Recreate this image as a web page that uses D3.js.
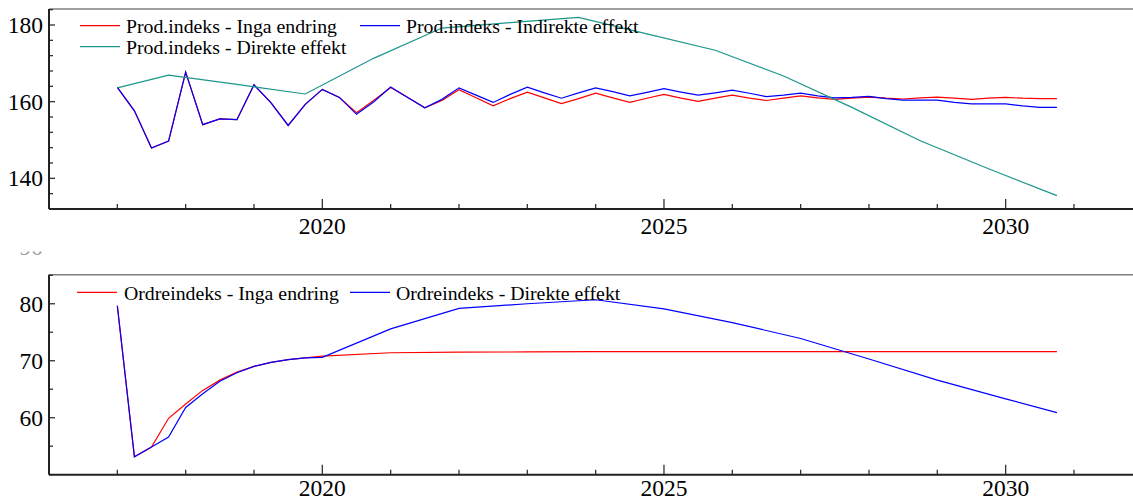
<html>
<head>
  <meta charset="utf-8">
  <title>Prod.indeks og Ordreindeks</title>
  <script src="https://d3js.org/d3.v7.min.js"></script>
  <style>
    body {
      margin: 0;
      background-color: white;
    }
  </style>
</head>

<body>
  <svg id="chart" width="1133" height="501"></svg>
  <script>
    var serifFont = "Liberation Serif";

    // quarterly time points 2017Q1 .. 2030Q4
    var quarters = d3.range(2017, 2031, 0.25);

    var prodIngaEndring = [
      163.7, 157.6, 147.9, 149.7, 167.7, 154.0, 155.5, 155.3, 164.4, 159.7, 153.8, 159.3,
      163.2, 161.1, 157.1, 160.3, 163.7, 161.1, 158.4, 160.3, 163.1, 161.0, 158.9, 160.8,
      162.5, 161.0, 159.5, 160.8, 162.2, 161.0, 159.8, 160.9, 161.9, 160.9, 160.1, 160.9,
      161.7, 160.9, 160.3, 160.9, 161.5, 161.0, 160.6, 160.9, 161.2, 160.9, 160.7, 161.0,
      161.2, 160.9, 160.6, 160.9, 161.1, 160.9, 160.8, 160.8
    ];
    var prodIndirekte = [
      163.7, 157.6, 147.9, 149.7, 167.7, 154.0, 155.5, 155.3, 164.4, 159.7, 153.8, 159.3,
      163.2, 161.1, 156.7, 159.9, 163.8, 161.1, 158.4, 160.6, 163.6, 161.7, 159.8, 161.9,
      163.8, 162.3, 160.9, 162.3, 163.6, 162.6, 161.5, 162.4, 163.4, 162.5, 161.7, 162.3,
      163.0, 162.2, 161.3, 161.7, 162.2, 161.5, 161.0, 161.1, 161.4, 160.8, 160.4, 160.4,
      160.4, 159.8, 159.4, 159.4, 159.4, 158.9, 158.5, 158.5
    ];

    // the direkte effekt series only has these points
    var prodDirekteTid = [2017, 2017.75, 2018.75, 2019.75, 2020.75, 2021.75, 2022.75, 2023.75,
      2024.75, 2025.75, 2026.75, 2027.75, 2028.75, 2029.75, 2030.75];
    var prodDirekte = [163.6, 166.9, 164.5, 162.0, 171.3, 179.2, 180.6, 182.0,
      177.7, 173.4, 166.7, 158.5, 149.8, 142.5, 135.5];

    var ordreTid = [2017, 2017.25, 2017.5, 2017.75, 2018, 2018.25, 2018.5, 2018.75,
      2019, 2019.25, 2019.5, 2019.75, 2020, 2021, 2022, 2023, 2024, 2025, 2026, 2027,
      2028, 2029, 2030, 2030.75];
    var ordreIngaEndring = [79.65, 53.16, 54.85, 59.9, 62.4, 64.8, 66.6, 68.0,
      69.0, 69.7, 70.2, 70.5, 70.8, 71.4, 71.5, 71.55, 71.6, 71.6, 71.6, 71.6,
      71.6, 71.6, 71.6, 71.6];
    var ordreDirekte = [79.65, 53.16, 54.85, 56.6, 61.8, 64.2, 66.4, 67.9,
      69.0, 69.7, 70.2, 70.5, 70.6, 75.6, 79.2, 80.0, 80.7, 79.1, 76.7, 73.9,
      70.3, 66.6, 63.3, 60.9];

    var yearTicks = [2020, 2025, 2030];
    var prodTicks = [140, 160, 180];
    var ordreTicks = [60, 70, 80];

    var svg = d3.select("#chart");

    var xScale = d3.scaleLinear()
      .domain([2016, 2032])
      .range([49, 1142.3]);

    function drawPanel(top, bottom, labelOffset, yDomain, majorTicks, minorStep, series, legend) {
      var yScale = d3.scaleLinear()
        .domain(yDomain)
        .range([bottom, top]);

      var g = svg.append("g");

      // top border
      g.append("line")
        .attr("x1", 49).attr("x2", 1133)
        .attr("y1", top).attr("y2", top)
        .attr("stroke", "#808080")
        .attr("stroke-width", 1.5);

      // x axis with ticks pointing in
      var allYears = d3.range(2017, 2032);
      g.selectAll(".xtick")
        .data(allYears)
        .enter()
        .append("line")
        .attr("x1", d => xScale(d)).attr("x2", d => xScale(d))
        .attr("y1", bottom)
        .attr("y2", d => yearTicks.includes(d) ? bottom - 10 : bottom - 5)
        .attr("stroke", "#333")
        .attr("stroke-width", 1.3);

      g.selectAll(".xlabel")
        .data(yearTicks)
        .enter()
        .append("text")
        .attr("x", d => xScale(d))
        .attr("y", bottom + labelOffset)
        .attr("text-anchor", "middle")
        .style("font-family", serifFont)
        .style("font-size", "23.5px")
        .text(d => d);

      // y ticks
      var yMinor = d3.range(yDomain[0], yDomain[1] + 0.01, minorStep);
      g.selectAll(".ytick")
        .data(yMinor)
        .enter()
        .append("line")
        .attr("x1", 49)
        .attr("x2", d => majorTicks.includes(d) ? 55 : 53)
        .attr("y1", d => yScale(d)).attr("y2", d => yScale(d))
        .attr("stroke", "#333")
        .attr("stroke-width", 1.3);

      g.selectAll(".ylabel")
        .data(majorTicks)
        .enter()
        .append("text")
        .attr("x", 43)
        .attr("y", d => yScale(d) + 8)
        .attr("text-anchor", "end")
        .style("font-family", serifFont)
        .style("font-size", "23.5px")
        .text(d => d);

      g.append("line")
        .attr("x1", 49).attr("x2", 1133)
        .attr("y1", bottom).attr("y2", bottom)
        .attr("stroke", "#222")
        .attr("stroke-width", 2);
      g.append("line")
        .attr("x1", 49).attr("x2", 49)
        .attr("y1", top).attr("y2", bottom)
        .attr("stroke", "#222")
        .attr("stroke-width", 2);

      // lines
      series.forEach(function (s) {
        var pts = s.tid.map((t, i) => [t, s.verdi[i]]);
        g.append("path")
          .datum(pts)
          .attr("fill", "none")
          .attr("stroke", s.farge)
          .attr("stroke-width", 1.2)
          .attr("d", d3.line().x(d => xScale(d[0])).y(d => yScale(d[1])));
      });

      // legend
      legend.forEach(function (l) {
        g.append("line")
          .attr("x1", l.x).attr("x2", l.x + 40)
          .attr("y1", l.y).attr("y2", l.y)
          .attr("stroke", l.farge)
          .attr("stroke-width", 1.2);
        g.append("text")
          .attr("x", l.x + l.gap)
          .attr("y", l.y + 7.5)
          .style("font-family", serifFont)
          .style("font-size", "19.8px")
          .text(l.navn);
      });

      return yScale;
    }

    drawPanel(9, 209, 25, [132, 184.17], prodTicks, 4,
      [
        { tid: quarters, verdi: prodIngaEndring, farge: "#ff0000" },
        { tid: quarters, verdi: prodIndirekte, farge: "#0000ff" },
        { tid: prodDirekteTid, verdi: prodDirekte, farge: "#1b968b" }
      ],
      [
        { navn: "Prod.indeks - Inga endring", farge: "#ff0000", x: 80, y: 25.7, gap: 46 },
        { navn: "Prod.indeks - Indirekte effekt", farge: "#0000ff", x: 360, y: 25.7, gap: 46 },
        { navn: "Prod.indeks - Direkte effekt", farge: "#1b968b", x: 80, y: 46.7, gap: 46 }
      ]);

    var yOrdre = drawPanel(274.7, 474.7, 21.5, [50, 85.1], ordreTicks, 5,
      [
        { tid: ordreTid, verdi: ordreIngaEndring, farge: "#ff0000" },
        { tid: ordreTid, verdi: ordreDirekte, farge: "#0000ff" }
      ],
      [
        { navn: "Ordreindeks - Inga endring", farge: "#ff0000", x: 77, y: 292.3, gap: 47 },
        { navn: "Ordreindeks - Direkte effekt", farge: "#0000ff", x: 350, y: 292.3, gap: 46 }
      ]);

    // the 90 label of the lower panel is mostly hidden behind the upper one
    svg.append("clipPath")
      .attr("id", "cut90")
      .append("rect")
      .attr("x", 0).attr("y", 251.5)
      .attr("width", 49).attr("height", 5);
    svg.append("text")
      .attr("x", 43)
      .attr("y", yOrdre(90) + 8)
      .attr("text-anchor", "end")
      .attr("clip-path", "url(#cut90)")
      .style("font-family", serifFont)
      .style("font-size", "23.5px")
      .style("fill", "#999")
      .text(90);
  </script>
</body>

</html>
